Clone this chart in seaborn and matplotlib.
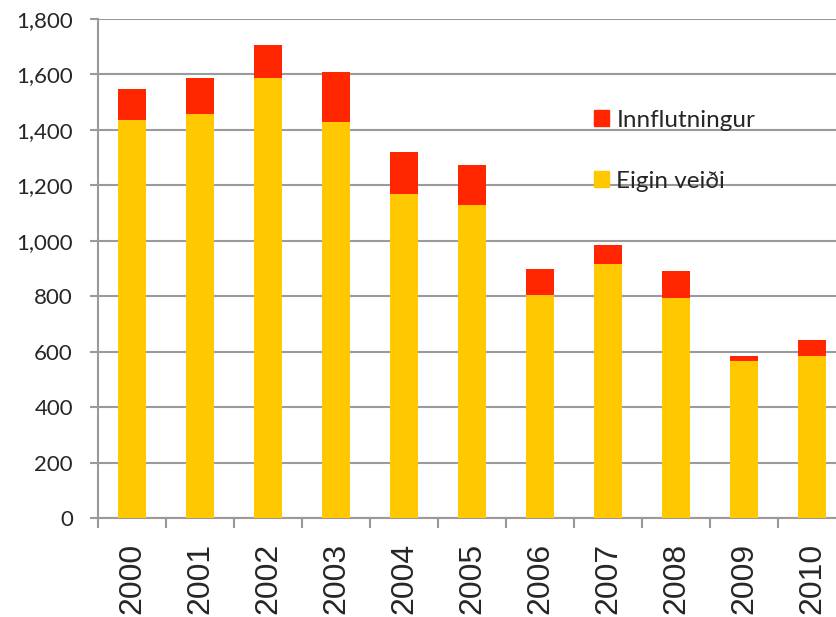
import matplotlib
matplotlib.use("Agg")
import matplotlib.pyplot as plt
import pandas as pd
import seaborn as sns
from matplotlib.patches import Patch

years = ["2000", "2001", "2002", "2003", "2004", "2005",
         "2006", "2007", "2008", "2009", "2010"]
eigin_veidi = [1435, 1456, 1588, 1428, 1168, 1129, 806, 915, 793, 566, 584]
innflutningur = [113, 130, 117, 180, 151, 144, 94, 70, 97, 18, 58]
y_ticks = [0, 200, 400, 600, 800, 1000, 1200, 1400, 1600, 1800]

YELLOW = "#FFC800"
RED = "#FF2600"
GRID = "#9a9a9a"

df = pd.DataFrame({"Ár": years, "Eigin veiði": eigin_veidi,
                   "Innflutningur": innflutningur})
df["Samtals"] = df["Eigin veiði"] + df["Innflutningur"]

sns.set_theme(style="white")
plt.rcParams["font.family"] = ["Lato", "DejaVu Sans"]

fig = plt.figure(figsize=(8.37, 6.17), dpi=100)
ax = fig.add_axes([98 / 837, 1 - 518 / 617, 748 / 837, (518 - 19) / 617])

# stacked: total in red, own catch in yellow drawn over it
sns.barplot(data=df, x="Ár", y="Samtals", color=RED, width=0.41,
            saturation=1, linewidth=0, ax=ax, zorder=3)
sns.barplot(data=df, x="Ár", y="Eigin veiði", color=YELLOW, width=0.41,
            saturation=1, linewidth=0, ax=ax, zorder=4)

ax.set_ylim(0, 1800)
ax.set_xlim(-0.5, len(years) - 0.5)
ax.set_yticks(y_ticks)
ax.set_yticklabels([f"{v:,}" for v in y_ticks], fontsize=16)
ax.yaxis.grid(True, color=GRID, linewidth=1.5, zorder=0)
ax.set_axisbelow(True)

ax.set_xticks(range(len(years)))
ax.set_xticklabels(years, rotation=90, fontsize=23,
                   family=["Liberation Sans", "DejaVu Sans"])
ax.set_xticks([i - 0.5 for i in range(len(years) + 1)], minor=True)
ax.tick_params(axis="x", which="major", length=0, pad=18)
ax.tick_params(axis="x", which="minor", length=7.5, width=1.5, color=GRID,
               direction="out", bottom=True)
ax.tick_params(axis="y", length=6, width=1.5, color=GRID, direction="out",
               left=True, pad=12)
ax.set_xlabel("")
ax.set_ylabel("")

for side in ["top", "right"]:
    ax.spines[side].set_visible(False)
for side in ["left", "bottom"]:
    ax.spines[side].set_color(GRID)
    ax.spines[side].set_linewidth(1.5)

handles = [Patch(color=RED, label="Innflutningur"),
           Patch(color=YELLOW, label="Eigin veiði")]
ax.legend(handles=handles, loc="upper left", bbox_to_anchor=(0.634, 0.862),
          frameon=False, fontsize=17.5, handlelength=0.62, handleheight=0.62,
          handletextpad=0.3, labelspacing=1.65)

fig.savefig("out.png", dpi=100)
